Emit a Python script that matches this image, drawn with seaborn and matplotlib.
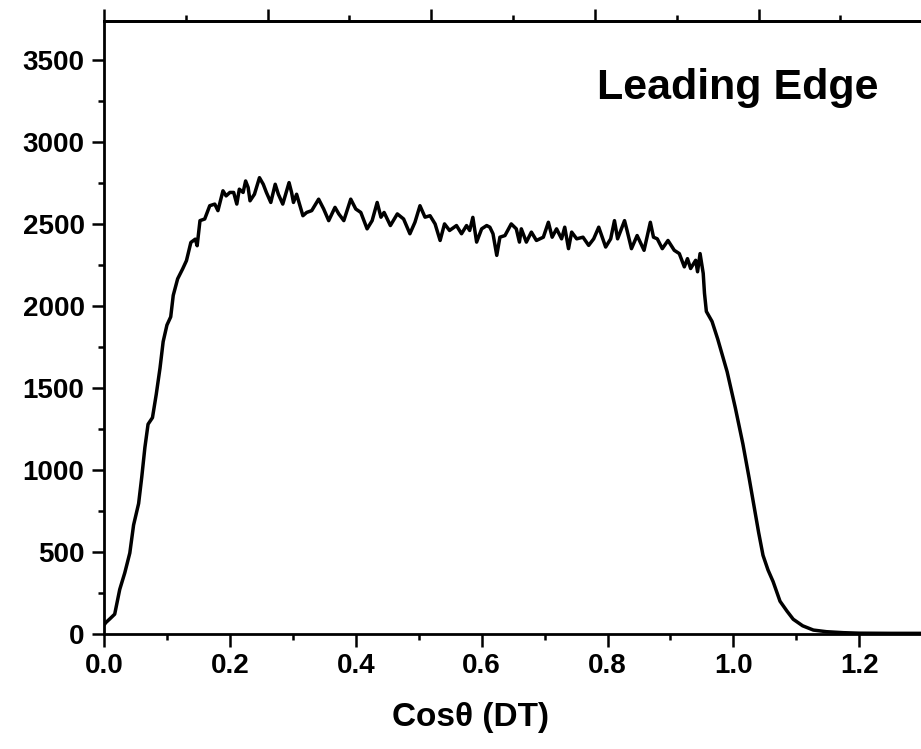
import numpy as np
import pandas as pd
import matplotlib
matplotlib.use("Agg")
import matplotlib.pyplot as plt
from matplotlib.ticker import MultipleLocator
import seaborn as sns

# ---- data ----
cos_theta = [
    0.000, 0.003, 0.010, 0.017, 0.025, 0.033, 0.041, 0.047, 0.055, 0.060,
    0.065, 0.070, 0.077, 0.083, 0.089, 0.094, 0.100, 0.106, 0.110, 0.117,
    0.125, 0.131, 0.138, 0.145, 0.148,
    0.1525, 0.160, 0.168, 0.176, 0.181, 0.189, 0.194, 0.200, 0.206, 0.211,
    0.215, 0.221, 0.225, 0.229, 0.232, 0.239, 0.247, 0.253, 0.258, 0.265,
    0.272, 0.277, 0.284, 0.294, 0.298, 0.301, 0.306, 0.316, 0.322, 0.330,
    0.341, 0.349, 0.357, 0.367, 0.373, 0.381, 0.392, 0.400, 0.408, 0.418,
    0.426, 0.434, 0.440, 0.445, 0.455, 0.466, 0.476, 0.486, 0.494, 0.502,
    0.510,
    0.518, 0.526, 0.534, 0.541, 0.549, 0.560, 0.568, 0.576, 0.581, 0.586,
    0.592, 0.600, 0.608, 0.613, 0.618, 0.624, 0.629, 0.637, 0.647, 0.655,
    0.660, 0.663, 0.671, 0.679, 0.687, 0.698, 0.706, 0.712, 0.719, 0.727,
    0.732, 0.738, 0.743, 0.751, 0.761, 0.770, 0.778, 0.786, 0.797, 0.805,
    0.811, 0.816, 0.827, 0.831, 0.838, 0.847, 0.858, 0.868, 0.873, 0.879,
    0.887, 0.896, 0.906, 0.914, 0.922, 0.927, 0.932, 0.940, 0.943, 0.947,
    0.952, 0.954, 0.957, 0.966, 0.975,
    0.990, 1.003, 1.015, 1.025, 1.035, 1.040, 1.047, 1.055, 1.063, 1.074,
    1.085, 1.095, 1.110, 1.127, 1.148, 1.175, 1.200, 1.250, 1.300,
]
counts = [
    55, 70, 95, 121, 272, 373, 494, 665, 796, 958,
    1139, 1280, 1320, 1462, 1623, 1784, 1885, 1935, 2066, 2167,
    2228, 2278, 2389, 2409, 2369,
    2522, 2532, 2613, 2623, 2583, 2704, 2673, 2694, 2694, 2623,
    2714, 2694, 2764, 2724, 2643, 2683, 2784, 2744, 2694, 2633,
    2744, 2683, 2623, 2754, 2694, 2633, 2683, 2552, 2572, 2583,
    2653, 2593, 2522, 2603, 2563, 2522, 2653, 2593, 2572, 2472,
    2522, 2633, 2543, 2572, 2492, 2563, 2532, 2442, 2512, 2613,
    2543,
    2552, 2502, 2401, 2502, 2462, 2492, 2442, 2492, 2462, 2542,
    2391, 2472, 2492, 2482, 2442, 2310, 2421, 2431, 2502, 2472,
    2391, 2472, 2391, 2452, 2401, 2421, 2512, 2421, 2472, 2411,
    2482, 2351, 2452, 2411, 2421, 2371, 2411, 2482, 2361, 2411,
    2522, 2411, 2522, 2462, 2351, 2431, 2341, 2512, 2421, 2411,
    2351, 2401, 2341, 2321, 2240, 2290, 2230, 2280, 2210, 2321,
    2200, 2079, 1968, 1907, 1800,
    1600, 1380, 1160, 950, 730, 620, 480, 390, 320, 200,
    140, 90, 50, 24, 14, 8, 5, 4, 4,
]
x_label = "Cos\u03b8 (DT)"
annotation = "Leading Edge"
y_ticks = [0, 500, 1000, 1500, 2000, 2500, 3000, 3500]
x_ticks = [0.0, 0.2, 0.4, 0.6, 0.8, 1.0, 1.2]
top_major = [0.0, 0.26, 0.52, 0.78, 1.04]
top_minor = [0.13, 0.39, 0.65, 0.91, 1.17]

df = pd.DataFrame({"cos": cos_theta, "n": counts})

sns.set_style("ticks")
plt.rcParams["font.family"] = ["Liberation Sans", "DejaVu Sans"]
plt.rcParams["font.weight"] = "bold"
plt.rcParams["text.color"] = "black"
plt.rcParams["axes.labelcolor"] = "black"

fig = plt.figure(figsize=(9.21, 7.49), dpi=100)
ax = fig.add_axes([104 / 921, 1 - 634 / 749, 1 - 104 / 921, (634 - 21) / 749])

sns.lineplot(data=df, x="cos", y="n", ax=ax, color="black", linewidth=2.5,
             sort=False, estimator=None)

ax.set_xlim(0, 1.298)
ax.set_ylim(0, 3740)
ax.set_xticks(x_ticks)
ax.set_xticklabels([f"{v:.1f}" for v in x_ticks])
ax.set_yticks(y_ticks)
ax.set_yticklabels([str(v) for v in y_ticks])
ax.xaxis.set_minor_locator(MultipleLocator(0.1))
ax.yaxis.set_minor_locator(MultipleLocator(250))

for s in ["left", "bottom", "top"]:
    ax.spines[s].set_linewidth(2.0)
    ax.spines[s].set_color("black")
ax.spines["right"].set_visible(False)

ax.tick_params(which="major", direction="out", length=9, width=1.8,
               labelsize=20, pad=5, colors="black", labelcolor="black")
ax.tick_params(which="minor", direction="out", length=4.5, width=1.8,
               colors="black")
ax.tick_params(top=False, right=False, which="both")
for lab in ax.get_xticklabels() + ax.get_yticklabels():
    lab.set_fontweight("bold")

sec = ax.secondary_xaxis("top")
sec.set_xticks(top_major)
sec.set_xticks(top_minor, minor=True)
sec.set_xticklabels([])
sec.tick_params(which="major", direction="out", length=8.5, width=1.8,
                colors="black")
sec.tick_params(which="minor", direction="out", length=4.5, width=1.8,
                colors="black")
sec.spines["top"].set_linewidth(2.0)
sec.spines["top"].set_color("black")

ax.set_xlabel(x_label, fontsize=24, fontweight="bold", color="black")
ax.set_ylabel("")
ax.xaxis.set_label_coords((470 - 104) / (921 - 104), -0.137)
ax.xaxis.label.set_verticalalignment("center")

ax.text(1.007, 3262, annotation, fontsize=31, fontweight="bold",
        ha="center", va="baseline", color="black")

fig.savefig("out.png", dpi=100)
